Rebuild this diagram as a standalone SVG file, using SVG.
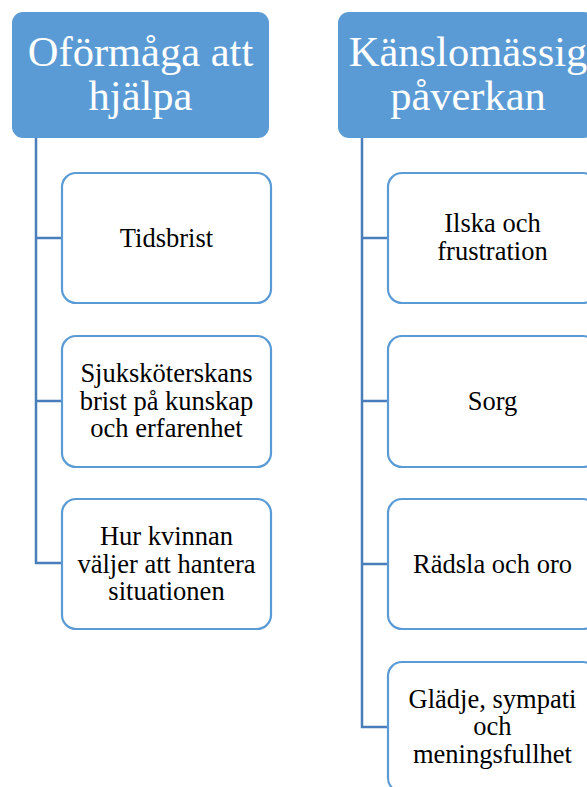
<svg xmlns="http://www.w3.org/2000/svg" width="587" height="787" viewBox="0 0 587 787">
<style>
.hdr{fill:#5B9BD5;}
.hdrt{font-family:"Liberation Serif","Times New Roman",serif;font-size:42.5px;fill:#ffffff;text-anchor:middle;}
.box{fill:#ffffff;stroke:#5B9BD5;stroke-width:2.2;}
.bt{font-family:"Liberation Serif","Times New Roman",serif;font-size:26.5px;fill:#000000;text-anchor:middle;}
.con{fill:none;stroke:#4A7EBB;stroke-width:2.5;}
</style>
<rect width="587" height="787" fill="#ffffff"/>
<g id="connectors">
<path class="con" d="M36,138 V563 H62 M36,238 H62 M36,401 H62"/>
<path class="con" d="M362,138 V727 H388 M362,238 H388 M362,401 H388 M362,564 H388"/>
</g>
<g id="h1">
<rect class="hdr" x="12" y="12" width="257" height="126" rx="11"/>
<text class="hdrt" x="140.5" y="66">Oförmåga att</text>
<text class="hdrt" x="140.5" y="110">hjälpa</text>
</g>
<g id="h2">
<rect class="hdr" x="338" y="12" width="257" height="126" rx="11"/>
<text class="hdrt" x="468" y="66">Känslomässig</text>
<text class="hdrt" x="468" y="110">påverkan</text>
</g>
<g id="n1">
<rect class="box" x="62" y="173" width="209" height="130" rx="14"/>
<text class="bt" x="166.5" y="247">Tidsbrist</text>
</g>
<g id="n2">
<rect class="box" x="62" y="336" width="209" height="131" rx="14"/>
<text class="bt" x="166.5" y="382">Sjuksköterskans</text>
<text class="bt" x="166.5" y="409.5">brist på kunskap</text>
<text class="bt" x="166.5" y="437">och erfarenhet</text>
</g>
<g id="n3">
<rect class="box" x="62" y="499" width="209" height="130" rx="14"/>
<text class="bt" x="166.5" y="545">Hur kvinnan</text>
<text class="bt" x="166.5" y="572.5">väljer att hantera</text>
<text class="bt" x="166.5" y="600">situationen</text>
</g>
<g id="n4">
<rect class="box" x="388" y="173" width="209" height="130" rx="14"/>
<text class="bt" x="492.5" y="232">Ilska och</text>
<text class="bt" x="492.5" y="259.5">frustration</text>
</g>
<g id="n5">
<rect class="box" x="388" y="336" width="209" height="131" rx="14"/>
<text class="bt" x="492.5" y="410">Sorg</text>
</g>
<g id="n6">
<rect class="box" x="388" y="499" width="209" height="130" rx="14"/>
<text class="bt" x="492.5" y="573">Rädsla och oro</text>
</g>
<g id="n7">
<rect class="box" x="388" y="662" width="209" height="130" rx="14"/>
<text class="bt" x="492.5" y="707.5">Glädje, sympati</text>
<text class="bt" x="492.5" y="735">och</text>
<text class="bt" x="492.5" y="762.5">meningsfullhet</text>
</g>
</svg>
